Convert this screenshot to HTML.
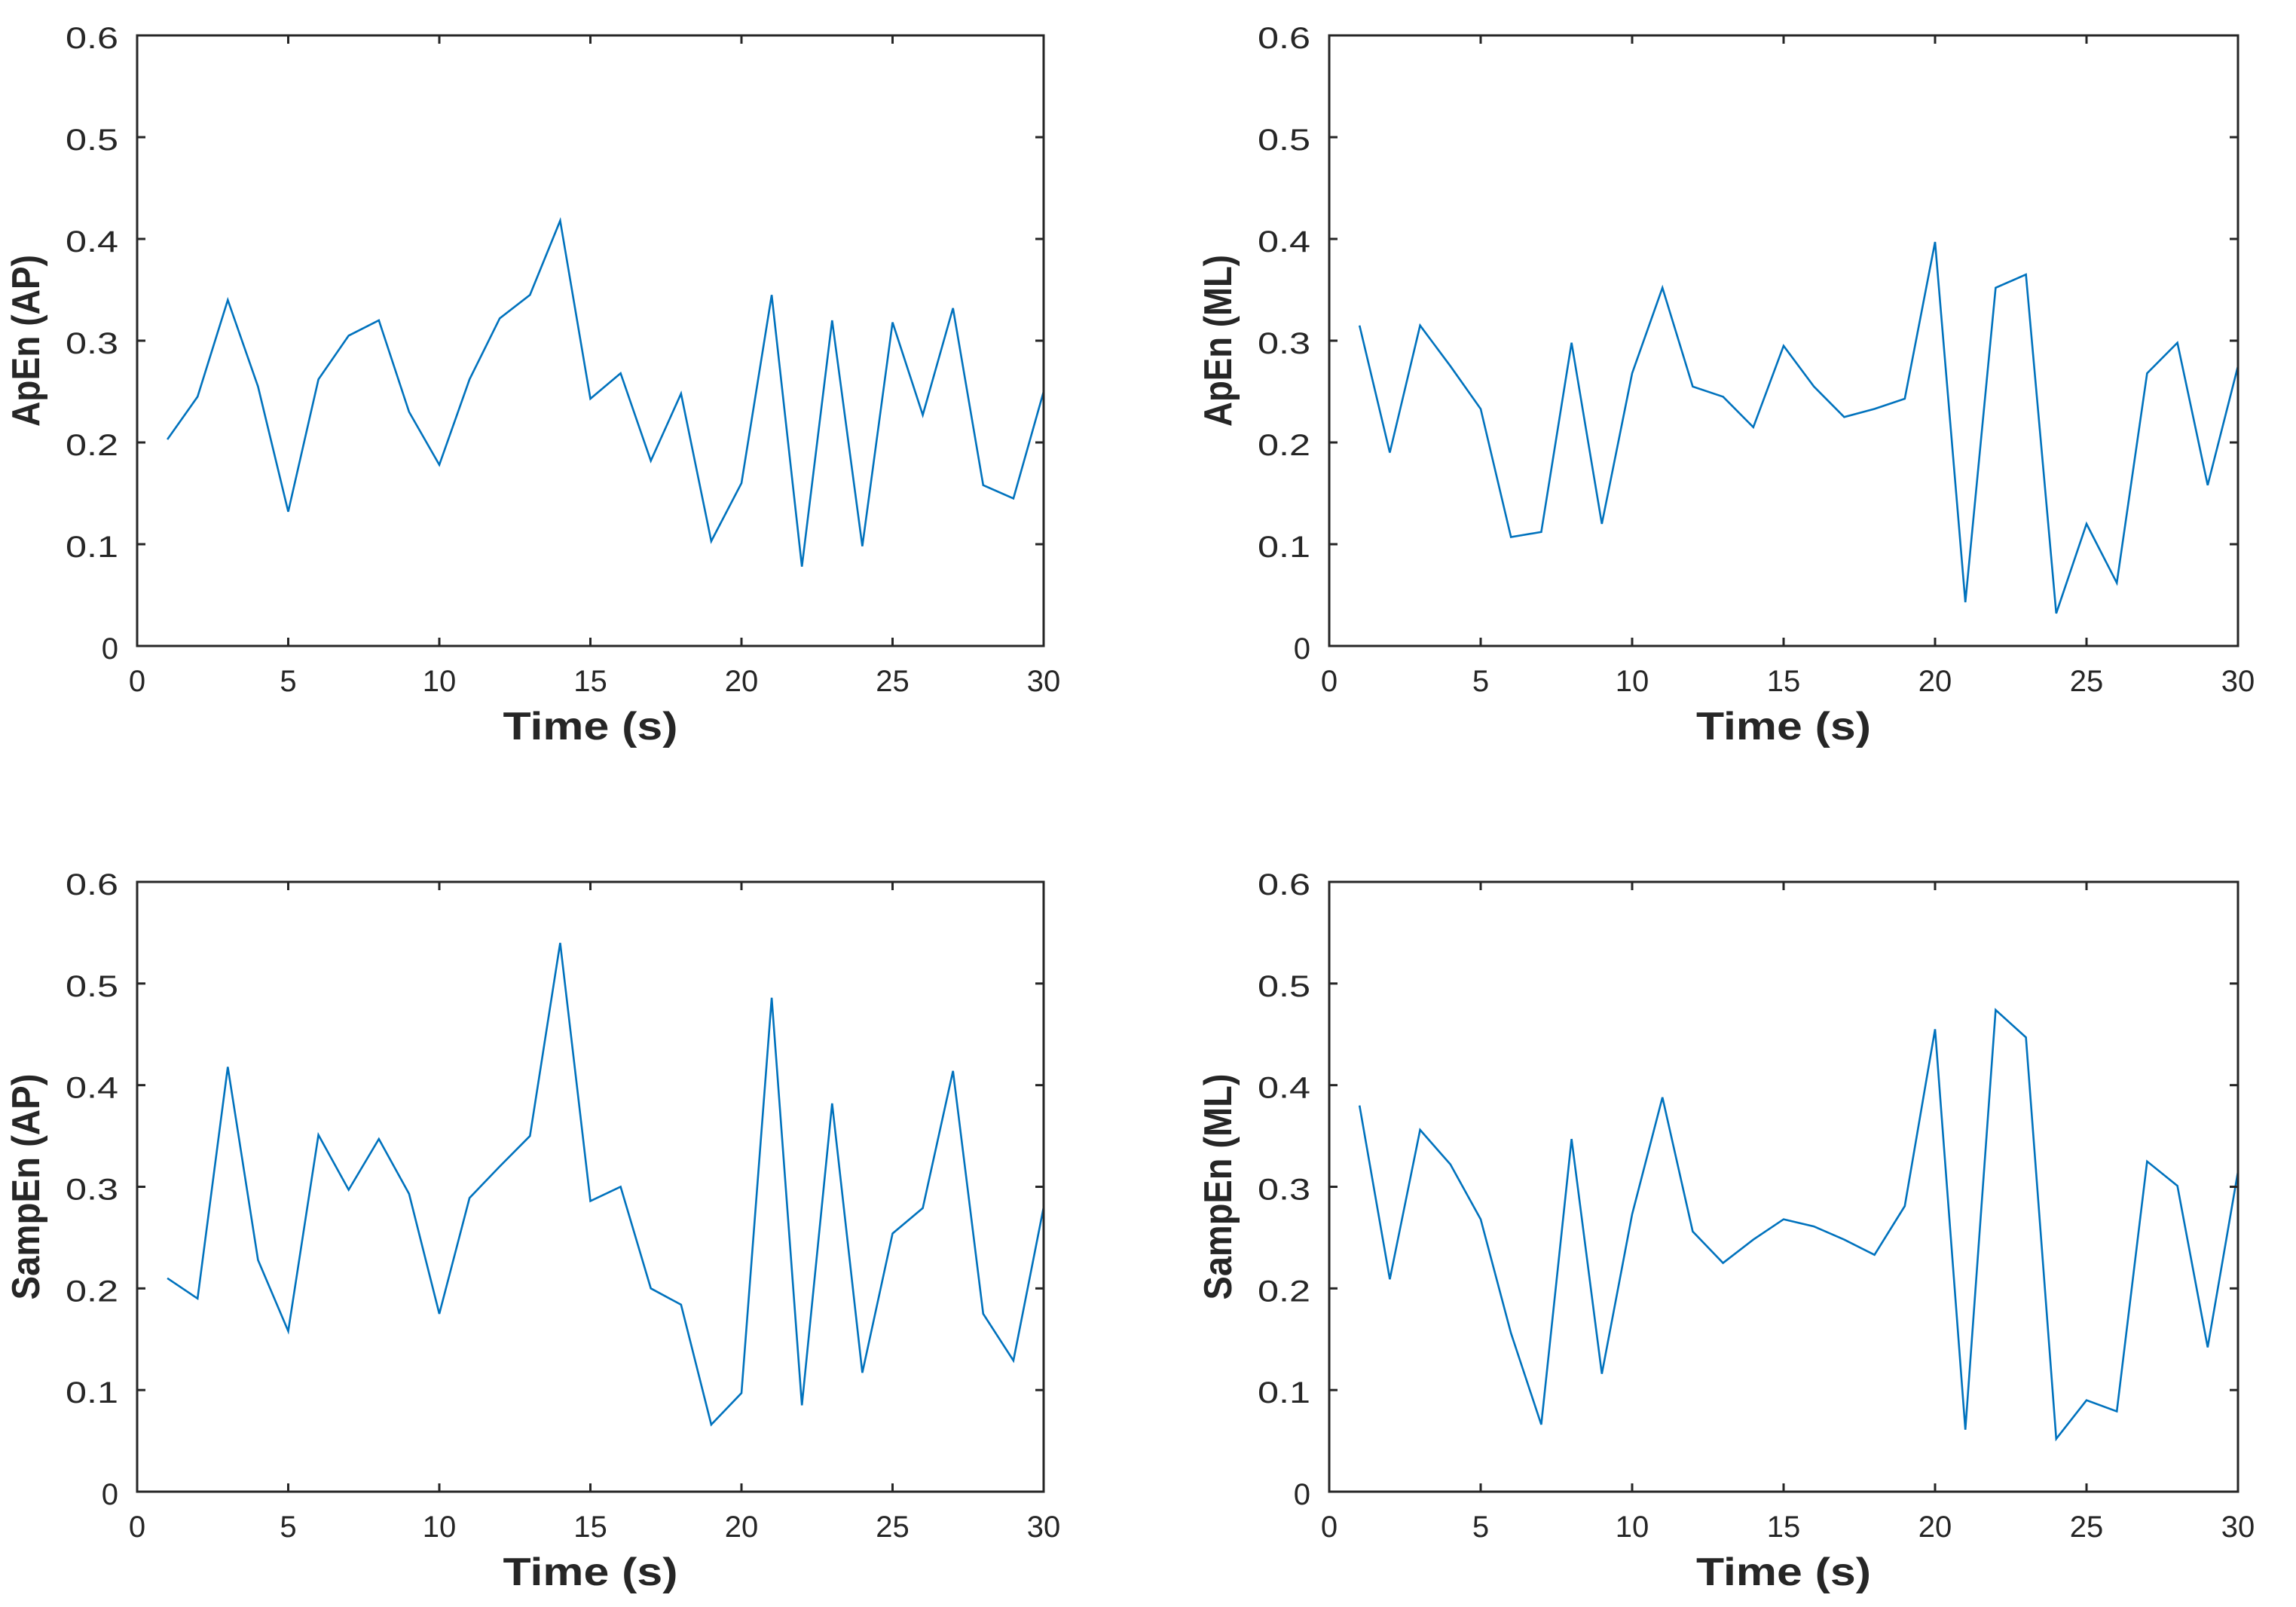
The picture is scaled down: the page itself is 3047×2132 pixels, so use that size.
<!DOCTYPE html>
<html><head><meta charset="utf-8"><style>
html,body{margin:0;padding:0;background:#fff;}
svg{display:block;}
text{font-family:"Liberation Sans",Arial,sans-serif;fill:#262626;}
</style></head><body>
<svg id="fig" width="3047" height="2132" viewBox="0 0 3047 2132" xmlns="http://www.w3.org/2000/svg"></svg>
<script>
const timeSeconds = [1,2,3,4,5,6,7,8,9,10,11,12,13,14,15,16,17,18,19,20,21,22,23,24,25,26,27,28,29,30];
const apenAP = [0.203,0.245,0.340,0.255,0.132,0.262,0.305,0.320,0.230,0.178,0.262,0.322,0.345,0.418,0.243,0.268,0.182,0.248,0.103,0.160,0.345,0.078,0.320,0.098,0.318,0.227,0.332,0.158,0.145,0.250];
const apenML = [0.315,0.190,0.315,0.275,0.233,0.107,0.112,0.298,0.120,0.268,0.352,0.255,0.245,0.215,0.295,0.255,0.225,0.233,0.243,0.397,0.043,0.352,0.365,0.032,0.120,0.062,0.268,0.298,0.158,0.275];
const sampenAP = [0.210,0.190,0.418,0.228,0.158,0.351,0.297,0.347,0.293,0.175,0.289,0.320,0.350,0.540,0.286,0.300,0.200,0.184,0.066,0.097,0.486,0.085,0.382,0.117,0.254,0.279,0.414,0.175,0.129,0.280];
const sampenML = [0.380,0.209,0.356,0.322,0.268,0.156,0.066,0.347,0.116,0.273,0.388,0.256,0.225,0.248,0.268,0.261,0.248,0.233,0.281,0.455,0.061,0.474,0.447,0.052,0.090,0.079,0.325,0.301,0.142,0.315];
const xTicks = [0,5,10,15,20,25,30];
const xTickLabels = ["0","5","10","15","20","25","30"];
const yTicks = [0,0.1,0.2,0.3,0.4,0.5,0.6];
const yTickLabels = ["0","0.1","0.2","0.3","0.4","0.5","0.6"];
const panelLabels = ["ApEn (AP)","ApEn (ML)","SampEn (AP)","SampEn (ML)"];
const panelSeries = [apenAP, apenML, sampenAP, sampenML];

const NS = "http://www.w3.org/2000/svg";
const svg = document.getElementById('fig');
function mk(tag, attrs, parent){
  const e = document.createElementNS(NS, tag);
  for (const k in attrs) e.setAttribute(k, attrs[k]);
  (parent||svg).appendChild(e);
  return e;
}
const boxes = [
  {l:182,r:1385,t:47,b:857},
  {l:1764,r:2970,t:47,b:857},
  {l:182,r:1385,t:1170,b:1979},
  {l:1764,r:2970,t:1170,b:1979}
];
const slugs = ["apen-ap","apen-ml","sampen-ap","sampen-ml"];
boxes.forEach((bx,i)=>{
  const g = mk('g',{});
  
  
  const xs = v => bx.l + (v-0)/(30-0)*(bx.r-bx.l);
  const ys = v => bx.b - (v-0)/(0.6-0)*(bx.b-bx.t);
  // series line
  const pts = timeSeconds.map((t,j)=>xs(t).toFixed(1)+','+ys(panelSeries[i][j]).toFixed(1)).join(' ');
  const line = mk('polyline',{points:pts,fill:'none',stroke:'#0072BD','stroke-width':2.6,'stroke-linejoin':'miter'},g);
  
  
  // axes box
  const frame = mk('rect',{x:bx.l,y:bx.t,width:bx.r-bx.l,height:bx.b-bx.t,fill:'none',stroke:'#262626','stroke-width':3},g);
  
  
  // x ticks
  xTicks.forEach((v,k)=>{
    const x = xs(v);
    mk('line',{x1:x,y1:bx.b,x2:x,y2:bx.b-11,stroke:'#262626','stroke-width':3},g);
    mk('line',{x1:x,y1:bx.t,x2:x,y2:bx.t+11,stroke:'#262626','stroke-width':3},g);
    const tl = mk('text',{x:x,y:bx.b+60,'text-anchor':'middle','font-size':40},g);
    tl.textContent = xTickLabels[k];
    
    
  });
  // y ticks
  yTicks.forEach((v,k)=>{
    const y = ys(v);
    mk('line',{x1:bx.l,y1:y,x2:bx.l+11,y2:y,stroke:'#262626','stroke-width':3},g);
    mk('line',{x1:bx.r,y1:y,x2:bx.r-11,y2:y,stroke:'#262626','stroke-width':3},g);
    const lab = yTickLabels[k];
    const attrs = {x:bx.l-25,y:y+17,'text-anchor':'end','font-size':40};
    if (lab.length===3){ attrs.textLength=70; attrs.lengthAdjust='spacingAndGlyphs'; }
    const tl = mk('text',attrs,g);
    tl.textContent = lab;
    
    
  });
  // x label
  const xl = mk('text',{x:(bx.l+bx.r)/2,y:bx.b+124,'text-anchor':'middle','font-size':52,'font-weight':'bold',textLength:232,lengthAdjust:'spacingAndGlyphs'},g);
  xl.textContent = 'Time (s)';
  
  
  // y label
  const cy = (bx.t+bx.b)/2;
  const lx = bx.l-130;
  const yl = mk('text',{x:lx,y:cy,'text-anchor':'middle','font-size':52,'font-weight':'bold',transform:'rotate(-90 '+lx+' '+cy+')',textLength:(i<2?228:300),lengthAdjust:'spacingAndGlyphs'},g);
  yl.textContent = panelLabels[i];
  
  
});
</script>
</body></html>
